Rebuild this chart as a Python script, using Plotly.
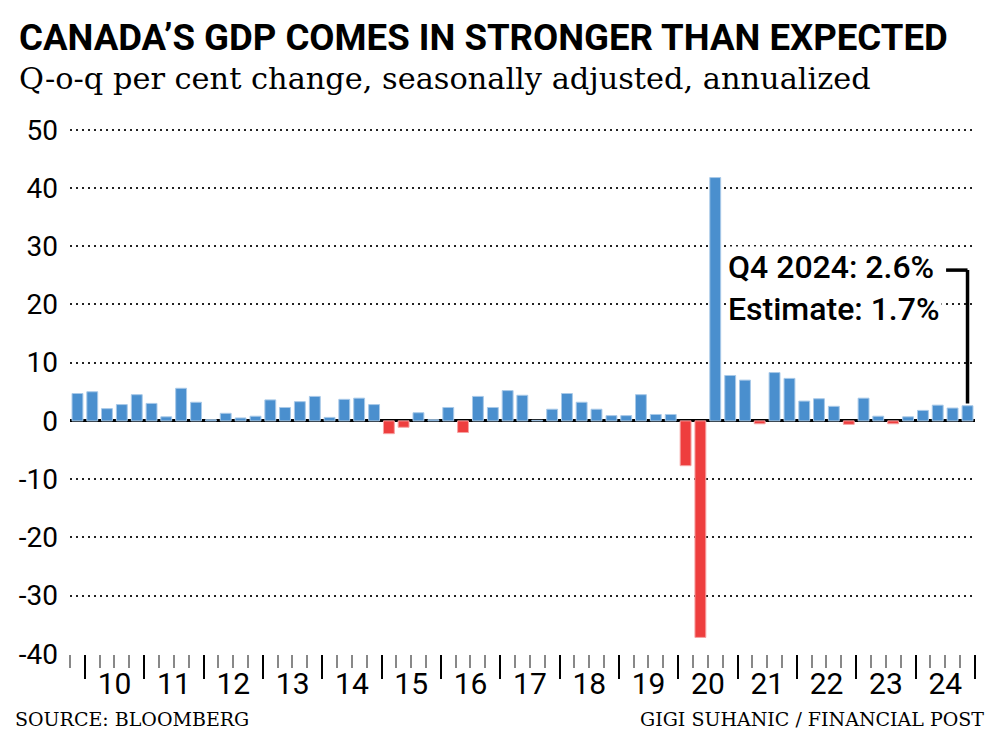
import pandas as pd
import plotly.graph_objects as go

# ---------------- data ----------------
quarters = pd.date_range("2009-10-01", "2024-10-01", freq="QS")  # 2009 Q4 ... 2024 Q4
values = [
    4.7, 5.0, 2.1, 2.8, 4.5, 3.0, 0.7, 5.6, 3.2, 0.2,
    1.3, 0.5, 0.8, 3.6, 2.3, 3.3, 4.2, 0.6, 3.7, 3.9,
    2.8, -2.2, -1.1, 1.4, 0.2, 2.3, -2.0, 4.2, 2.3, 5.2,
    4.4, 0.1, 2.0, 4.7, 3.2, 2.0, 0.9, 0.9, 4.5, 1.1,
    1.1, -7.7, -37.2, 41.8, 7.8, 7.0, -0.5, 8.3, 7.3, 3.4,
    3.8, 2.5, -0.6, 3.9, 0.8, -0.5, 0.7, 1.8, 2.7, 2.2, 2.6,
]
y_tick_vals = [-40, -30, -20, -10, 0, 10, 20, 30, 40, 50]
y_tick_text = ["-40", "-30", "-20", "-10", "0", "10", "20", "30", "40", "50"]
callout_lines = ["Q4 2024: 2.6%", "Estimate: 1.7%"]
callout_top = 25.9

title = "CANADA\u2019S GDP COMES IN STRONGER THAN EXPECTED"
subtitle = "Q-o-q per cent change, seasonally adjusted, annualized"
source = "SOURCE: BLOOMBERG"
credit = "GIGI SUHANIC / FINANCIAL POST"

# ---------------- style ----------------
BLUE, BLUE_EDGE = "#4a8fce", "#a8c9e8"
RED, RED_EDGE = "#ee3e3e", "#f6a3a3"
colors = [BLUE if v >= 0 else RED for v in values]
edges = [BLUE_EDGE if v >= 0 else RED_EDGE for v in values]

W, H = 1000, 746
L, R, T, B = 70, 25, 124, 92
PW, PH = W - L - R, H - T - B


def px_x(px):
    return (px - L) / PW


def px_y(py):
    return (H - B - py) / PH


fig = go.Figure(
    go.Bar(
        x=quarters,
        y=values,
        xperiod="M3",
        xperiodalignment="middle",
        marker=dict(color=colors, line=dict(color=edges, width=1)),
        hoverinfo="skip",
    )
)

# callout bracket anchored to the last bar
last_mid = quarters[-1] + pd.Timedelta(days=46)
left_end = last_mid - pd.Timedelta(days=132)
fig.add_shape(
    type="line", xref="x", yref="y",
    x0=last_mid, x1=last_mid, y0=values[-1] + 0.4, y1=callout_top,
    line=dict(color="black", width=3.5), layer="above",
)
fig.add_shape(
    type="line", xref="x", yref="y",
    x0=left_end, x1=last_mid, y0=callout_top, y1=callout_top,
    line=dict(color="black", width=3.5), layer="above",
)

fig.add_annotation(
    xref="paper", yref="paper", x=px_x(726), y=px_y(288),
    xanchor="left", yanchor="middle", align="left",
    text="<br>".join(callout_lines), showarrow=False,
    bgcolor="white", borderpad=1,
    font=dict(family="Roboto", size=32, color="black", weight=500),
)

fig.add_annotation(
    xref="paper", yref="paper", x=px_x(17), y=px_y(79),
    xanchor="left", yanchor="middle", text=subtitle, showarrow=False,
    font=dict(family="DejaVu Serif", size=30.4, color="black"),
)
fig.add_annotation(
    xref="paper", yref="paper", x=px_x(13), y=px_y(719),
    xanchor="left", yanchor="middle", text=source, showarrow=False,
    font=dict(family="DejaVu Serif", size=19, color="black"),
)
fig.add_annotation(
    xref="paper", yref="paper", x=px_x(986), y=px_y(719),
    xanchor="right", yanchor="middle", text=credit, showarrow=False,
    font=dict(family="DejaVu Serif", size=19, color="black"),
)

fig.update_layout(
    width=W, height=H,
    margin=dict(l=L, r=R, t=T, b=B),
    plot_bgcolor="white", paper_bgcolor="white",
    bargap=0.26, showlegend=False,
    title=dict(
        text=title, xref="container", yref="container",
        x=19 / W, xanchor="left", y=1 - 37 / H, yanchor="middle",
        font=dict(family="Roboto", size=36.6, color="black", weight=700),
    ),
    xaxis=dict(
        type="date",
        range=["2009-10-01", "2025-01-01"],
        tick0="2010-01-01", dtick="M12", tickformat="%y",
        ticklabelmode="period",
        ticks="outside", ticklen=24, tickwidth=2, tickcolor="black",
        showgrid=False, zeroline=False, showline=False,
        tickfont=dict(family="Roboto", size=30, color="black"),
        ticklabelstandoff=-21,
        minor=dict(dtick="M3", tick0="2010-01-01", ticks="outside",
                   ticklen=13, tickwidth=1.5, tickcolor="#888", showgrid=False),
    ),
    yaxis=dict(
        range=[-40.05, 51],
        tickvals=y_tick_vals, ticktext=y_tick_text,
        showgrid=True, gridcolor="#222", gridwidth=1.5, griddash="2px,4px",
        zeroline=True, zerolinecolor="black", zerolinewidth=3,
        ticks="", showline=False,
        tickfont=dict(family="Roboto", size=28, color="black"),
        ticklabelstandoff=11,
    ),
)

fig.write_html("out.html")
